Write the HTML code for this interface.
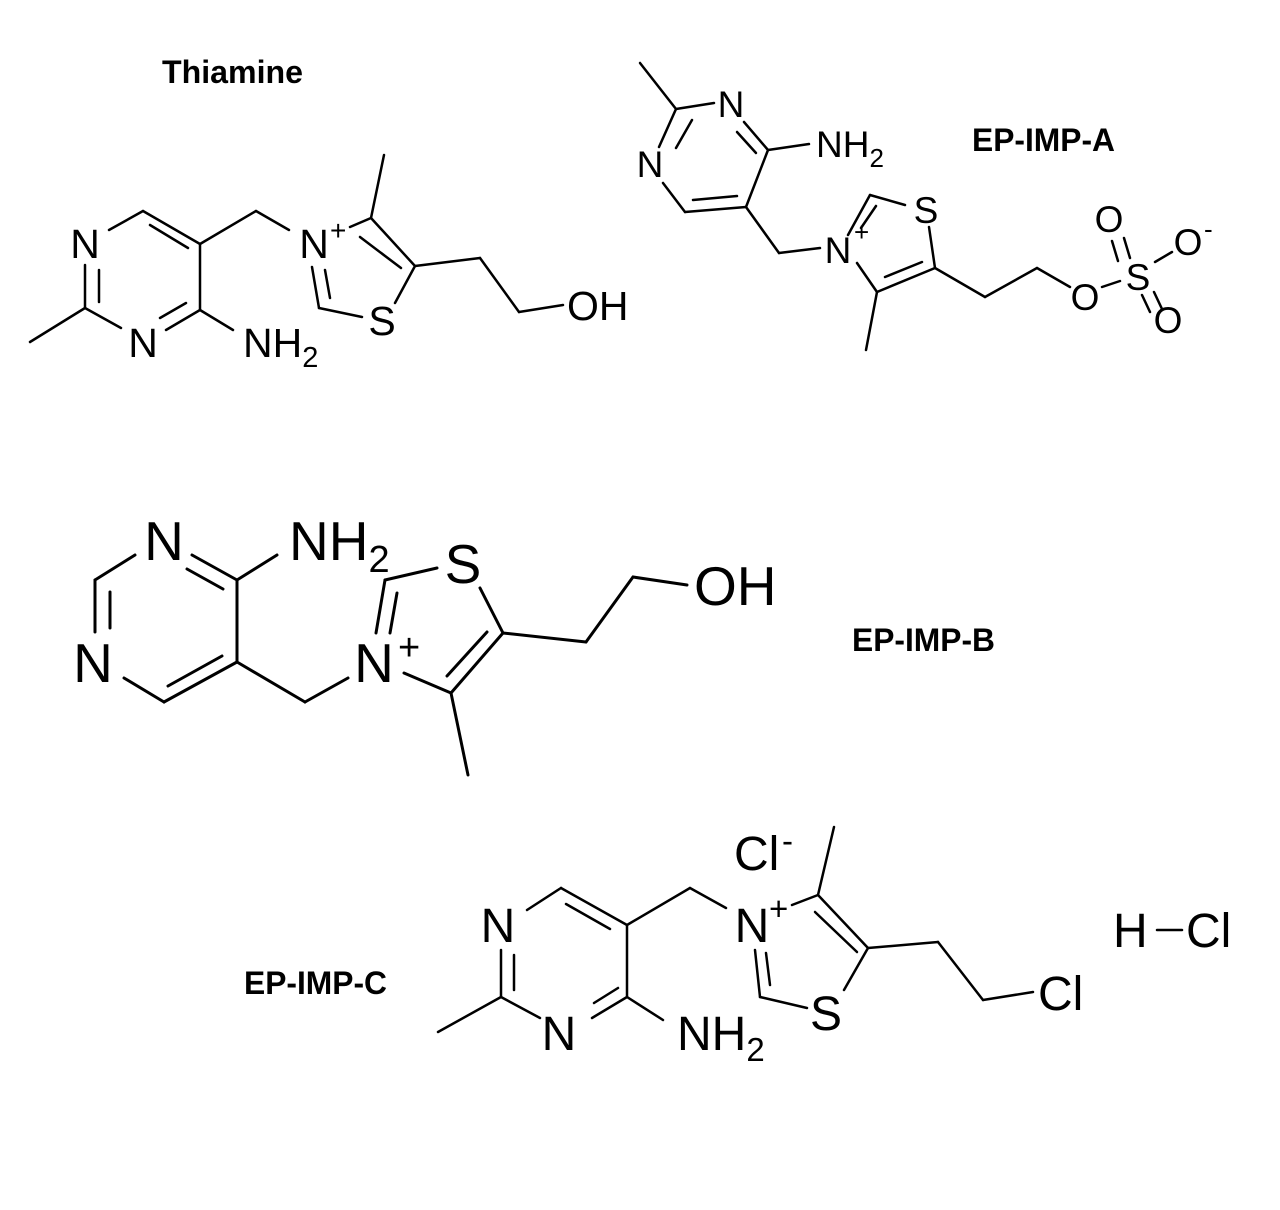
<!DOCTYPE html>
<html><head><meta charset="utf-8"><style>
html,body{margin:0;padding:0;background:#fff;}
svg{display:block;}
.b{stroke:#000;stroke-width:2.5;fill:none;stroke-linecap:round;}
.t{font-family:"Liberation Sans",sans-serif;fill:#000;}
.lb{font-family:"Liberation Sans",sans-serif;font-weight:bold;font-size:32px;fill:#000;}
</style></head><body>
<svg width="1280" height="1210" viewBox="0 0 1280 1210" xmlns="http://www.w3.org/2000/svg">
<rect width="1280" height="1210" fill="#fff"/>
<!-- Titles -->
<text class="lb" x="162" y="83" textLength="141" lengthAdjust="spacingAndGlyphs">Thiamine</text>
<text class="lb" x="972" y="151" textLength="143" lengthAdjust="spacingAndGlyphs">EP-IMP-A</text>
<text class="lb" x="852" y="651" textLength="143" lengthAdjust="spacingAndGlyphs">EP-IMP-B</text>
<text class="lb" x="244" y="994" textLength="143" lengthAdjust="spacingAndGlyphs">EP-IMP-C</text>

<!-- Thiamine -->
<g class="b">
<line x1="109" y1="230" x2="143" y2="211"/>
<line x1="143" y1="211" x2="200" y2="244"/>
<line x1="150" y1="225" x2="188" y2="248"/>
<line x1="200" y1="244" x2="200" y2="310"/>
<line x1="200" y1="310" x2="166" y2="330"/>
<line x1="186" y1="303" x2="160" y2="318"/>
<line x1="121" y1="328" x2="85" y2="308"/>
<line x1="85" y1="308" x2="85" y2="265"/>
<line x1="99" y1="270" x2="99" y2="302"/>
<line x1="85" y1="308" x2="30" y2="342"/>
<line x1="200" y1="310" x2="233" y2="330"/>
<line x1="200" y1="244" x2="256" y2="211"/>
<line x1="256" y1="211" x2="289" y2="230"/>
<line x1="350" y1="227" x2="371" y2="218"/>
<line x1="371" y1="218" x2="384" y2="155"/>
<line x1="371" y1="218" x2="415" y2="266"/>
<line x1="360" y1="237" x2="401" y2="268"/>
<line x1="415" y1="266" x2="395" y2="303"/>
<line x1="362" y1="317" x2="319" y2="308"/>
<line x1="319" y1="308" x2="312" y2="267"/>
<line x1="330" y1="298" x2="325" y2="270"/>
<line x1="415" y1="266" x2="480" y2="258"/>
<line x1="480" y1="258" x2="519" y2="312"/>
<line x1="519" y1="312" x2="563" y2="305"/>
</g>
<g class="t" font-size="41" text-anchor="middle">
<text x="85" y="258">N</text>
<text x="143" y="357">N</text>
<text x="314" y="258">N</text>
<text x="382" y="335">S</text>
</g>
<g class="t" font-size="41">
<text x="243" y="357">NH<tspan font-size="29" dy="10">2</tspan></text>
<text x="567" y="320">OH</text>
<text x="330" y="240" font-size="28">+</text>
</g>

<!-- EP-IMP-A -->
<g class="b">
<line x1="640" y1="63" x2="676" y2="109"/>
<line x1="676" y1="109" x2="714" y2="103"/>
<line x1="676" y1="109" x2="659" y2="147"/>
<line x1="692" y1="120" x2="676" y2="148"/>
<line x1="744" y1="122" x2="768" y2="150"/>
<line x1="737" y1="132" x2="756" y2="153"/>
<line x1="768" y1="150" x2="746" y2="207"/>
<line x1="746" y1="207" x2="685" y2="212"/>
<line x1="737" y1="196" x2="693" y2="200"/>
<line x1="685" y1="212" x2="663" y2="183"/>
<line x1="768" y1="150" x2="809" y2="144"/>
<line x1="746" y1="207" x2="779" y2="253"/>
<line x1="779" y1="253" x2="820" y2="248"/>
<line x1="848" y1="235" x2="870" y2="195"/>
<line x1="861" y1="228" x2="876" y2="206"/>
<line x1="870" y1="195" x2="905" y2="205"/>
<line x1="929" y1="227" x2="935" y2="268"/>
<line x1="935" y1="268" x2="877" y2="292"/>
<line x1="922" y1="262" x2="885" y2="277"/>
<line x1="877" y1="292" x2="857" y2="263"/>
<line x1="877" y1="292" x2="866" y2="350"/>
<line x1="935" y1="268" x2="985" y2="297"/>
<line x1="985" y1="297" x2="1037" y2="268"/>
<line x1="1037" y1="268" x2="1070" y2="287"/>
<line x1="1102" y1="287" x2="1120" y2="281"/>
<line x1="1118" y1="261" x2="1112" y2="241"/>
<line x1="1130" y1="258" x2="1124" y2="238"/>
<line x1="1155" y1="262" x2="1172" y2="252"/>
<line x1="1142" y1="295" x2="1150" y2="312"/>
<line x1="1154" y1="292" x2="1162" y2="309"/>
</g>
<g class="t" font-size="37" text-anchor="middle">
<text x="731" y="117">N</text>
<text x="650" y="177">N</text>
<text x="838" y="263">N</text>
<text x="926" y="223">S</text>
<text x="1085" y="310">O</text>
<text x="1138" y="290">S</text>
<text x="1109" y="232">O</text>
<text x="1188" y="255">O</text>
<text x="1168" y="333">O</text>
</g>
<g class="t" font-size="37">
<text x="816" y="157">NH<tspan font-size="26" dy="10">2</tspan></text>
<text x="854" y="241" font-size="26">+</text>
<text x="1204" y="238" font-size="26">-</text>
</g>

<!-- EP-IMP-B -->
<g class="b" style="stroke-width:3">
<line x1="135" y1="555" x2="95" y2="580"/>
<line x1="95" y1="580" x2="95" y2="632"/>
<line x1="110" y1="592" x2="110" y2="628"/>
<line x1="124" y1="678" x2="164" y2="702"/>
<line x1="164" y1="702" x2="237" y2="662"/>
<line x1="168" y1="686" x2="222" y2="656"/>
<line x1="237" y1="662" x2="237" y2="580"/>
<line x1="237" y1="580" x2="192" y2="555"/>
<line x1="187" y1="569" x2="223" y2="589"/>
<line x1="237" y1="580" x2="277" y2="555"/>
<line x1="237" y1="662" x2="305" y2="702"/>
<line x1="305" y1="702" x2="348" y2="678"/>
<line x1="376" y1="633" x2="385" y2="580"/>
<line x1="390" y1="633" x2="397" y2="593"/>
<line x1="385" y1="580" x2="437" y2="568"/>
<line x1="480" y1="588" x2="503" y2="633"/>
<line x1="503" y1="633" x2="451" y2="693"/>
<line x1="487" y1="632" x2="447" y2="676"/>
<line x1="451" y1="693" x2="404" y2="673"/>
<line x1="451" y1="693" x2="468" y2="775"/>
<line x1="503" y1="633" x2="586" y2="642"/>
<line x1="586" y1="642" x2="633" y2="577"/>
<line x1="633" y1="577" x2="687" y2="585"/>
</g>
<g class="t" font-size="55" text-anchor="middle">
<text x="164" y="560">N</text>
<text x="93" y="682">N</text>
<text x="374" y="682">N</text>
<text x="463" y="583">S</text>
</g>
<g class="t" font-size="55">
<text x="289" y="560">NH<tspan font-size="38" dy="12">2</tspan></text>
<text x="694" y="605">OH</text>
<text x="398" y="660" font-size="38">+</text>
</g>

<!-- EP-IMP-C -->
<g class="b">
<line x1="527" y1="910" x2="561" y2="888"/>
<line x1="561" y1="888" x2="627" y2="925"/>
<line x1="566" y1="904" x2="610" y2="929"/>
<line x1="627" y1="925" x2="627" y2="997"/>
<line x1="627" y1="997" x2="592" y2="1018"/>
<line x1="618" y1="988" x2="594" y2="1003"/>
<line x1="540" y1="1018" x2="501" y2="997"/>
<line x1="501" y1="997" x2="501" y2="950"/>
<line x1="514" y1="955" x2="514" y2="990"/>
<line x1="501" y1="997" x2="438" y2="1032"/>
<line x1="627" y1="997" x2="663" y2="1020"/>
<line x1="627" y1="925" x2="690" y2="888"/>
<line x1="690" y1="888" x2="726" y2="908"/>
<line x1="792" y1="905" x2="818" y2="895"/>
<line x1="818" y1="895" x2="834" y2="827"/>
<line x1="818" y1="895" x2="868" y2="948"/>
<line x1="815" y1="912" x2="857" y2="952"/>
<line x1="868" y1="948" x2="844" y2="990"/>
<line x1="807" y1="1008" x2="760" y2="997"/>
<line x1="760" y1="997" x2="755" y2="950"/>
<line x1="770" y1="985" x2="766" y2="953"/>
<line x1="868" y1="948" x2="938" y2="942"/>
<line x1="938" y1="942" x2="983" y2="1000"/>
<line x1="983" y1="1000" x2="1033" y2="992"/>
<line x1="1157" y1="930" x2="1182" y2="930"/>
</g>
<g class="t" font-size="48" text-anchor="middle">
<text x="498" y="942">N</text>
<text x="559" y="1050">N</text>
<text x="752" y="942">N</text>
<text x="826" y="1030">S</text>
</g>
<g class="t" font-size="48">
<text x="677" y="1050">NH<tspan font-size="33" dy="11">2</tspan></text>
<text x="769" y="920" font-size="33">+</text>
<text x="734" y="870">Cl</text>
<text x="782" y="852" font-size="33">-</text>
<text x="1038" y="1010">Cl</text>
<text x="1113" y="947">H</text>
<text x="1186" y="947">Cl</text>
</g>
</svg>
</body></html>
